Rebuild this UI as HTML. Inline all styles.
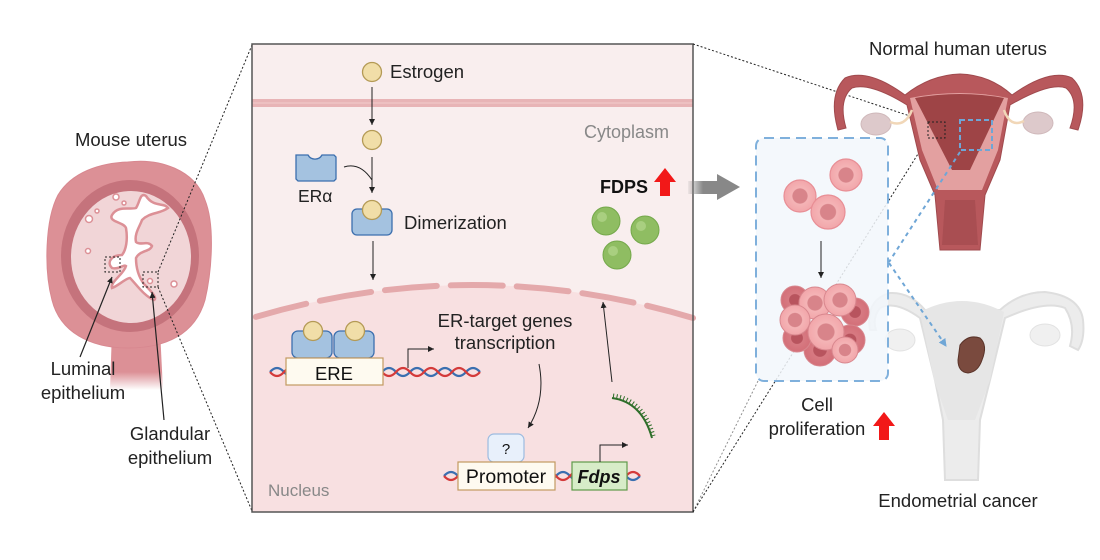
<!DOCTYPE html>
<html><head><meta charset="utf-8"><style>
html,body{margin:0;padding:0;background:#fff;}
svg{display:block;font-family:"Liberation Sans",sans-serif;}
</style></head><body>
<svg width="1100" height="560" viewBox="0 0 1100 560" xmlns="http://www.w3.org/2000/svg">
<defs>
<marker id="ah" markerWidth="8" markerHeight="8" refX="6" refY="3" orient="auto" markerUnits="userSpaceOnUse"><path d="M0,0 L6,3 L0,6 z" fill="#222"/></marker>
<marker id="ahb" markerWidth="10" markerHeight="10" refX="7" refY="4" orient="auto" markerUnits="userSpaceOnUse"><path d="M0,0 L8,4 L0,8 z" fill="#6fa6d6"/></marker>
<linearGradient id="ga" x1="0" x2="1"><stop offset="0" stop-color="#888" stop-opacity="0.1"/><stop offset="0.5" stop-color="#888"/><stop offset="1" stop-color="#888"/></linearGradient>
<linearGradient id="stalk" x1="0" y1="0" x2="0" y2="1"><stop offset="0" stop-color="#dc9096"/><stop offset="0.7" stop-color="#dc9096"/><stop offset="1" stop-color="#dc9096" stop-opacity="0"/></linearGradient>
<radialGradient id="cell" cx="0.5" cy="0.5" r="0.5"><stop offset="0" stop-color="#d8848a"/><stop offset="0.45" stop-color="#d8848a"/><stop offset="0.5" stop-color="#f4b4b6"/><stop offset="1" stop-color="#f2a6aa"/></radialGradient>
<radialGradient id="cell2" cx="0.5" cy="0.5" r="0.5"><stop offset="0" stop-color="#b8545e"/><stop offset="0.4" stop-color="#b8545e"/><stop offset="0.45" stop-color="#d77a82"/><stop offset="1" stop-color="#d36f78"/></radialGradient>
</defs>

<!-- Mouse uterus -->
<text x="131" y="146" font-size="18.5" text-anchor="middle" fill="#222">Mouse uterus</text>
<path d="M112,330 L110,390 L163,390 L160,330 z" fill="url(#stalk)"/>
<path d="M128,162 C160,158 195,170 205,200 C215,225 212,270 205,300 C195,335 165,348 128,348 C90,348 60,332 52,300 C44,270 45,220 58,195 C72,172 100,163 128,162 z" fill="#dc9096" stroke="#d88890"/>
<ellipse cx="130" cy="256" rx="69" ry="76" fill="#c5737c"/>
<ellipse cx="131" cy="257" rx="60" ry="66" fill="#f1d5d7"/>
<path d="M146,196 C140,192 140,202 136,208 C130,210 118,205 112,215 C108,222 124,222 126,228 C128,240 126,250 122,255 C112,255 106,262 112,268 C118,270 124,264 126,266 C124,274 110,282 112,288 C118,286 126,278 130,278 C136,284 144,296 154,300 C158,298 150,290 144,284 C138,276 136,268 136,258 C140,250 150,252 152,246 C148,240 140,246 136,242 C134,234 140,226 142,220 C150,212 160,214 168,208 C164,202 154,208 146,196 z" fill="#fff" stroke="#dc9096" stroke-width="2.5"/>
<g fill="#fff" stroke="#dc9096" stroke-width="1.5">
<circle cx="116" cy="197" r="3"/><circle cx="124" cy="203" r="2"/><circle cx="89" cy="219" r="3.5"/><circle cx="97" cy="211" r="2"/><circle cx="88" cy="251" r="2.5"/><circle cx="174" cy="284" r="3"/><circle cx="150" cy="281" r="2.5"/>
</g>
<rect x="105" y="257" width="15" height="15" fill="none" stroke="#222" stroke-dasharray="2,2"/>
<rect x="143" y="272" width="15" height="15" fill="none" stroke="#222" stroke-dasharray="2,2"/>
<line x1="80" y1="357" x2="112" y2="277" stroke="#222" stroke-width="1.2" marker-end="url(#ah)"/>
<line x1="164" y1="420" x2="152" y2="292" stroke="#222" stroke-width="1.2" marker-end="url(#ah)"/>
<text font-size="18.5" fill="#222" text-anchor="middle"><tspan x="83" y="375">Luminal</tspan><tspan x="83" y="399">epithelium</tspan></text>
<text font-size="18.5" fill="#222" text-anchor="middle"><tspan x="170" y="440">Glandular</tspan><tspan x="170" y="464">epithelium</tspan></text>
<line x1="158" y1="272" x2="252" y2="45" stroke="#222" stroke-dasharray="2,2"/>
<line x1="158" y1="287" x2="252" y2="511" stroke="#222" stroke-dasharray="2,2"/>

<!-- Center panel -->
<rect x="252" y="44" width="441" height="468" fill="#f9eeee"/>
<path d="M252,318 Q472,252 693,318 L693,512 L252,512 z" fill="#f8e0e1"/>
<rect x="252" y="99" width="441" height="8" fill="#e8b4b6"/>
<line x1="252" y1="103" x2="693" y2="103" stroke="#f2cccc" stroke-width="1"/>
<path d="M252,318 Q472,252 693,318" fill="none" stroke="#e4a9ab" stroke-width="6" stroke-linecap="round" stroke-dasharray="52,14" stroke-dashoffset="-4"/>
<rect x="252" y="44" width="441" height="468" fill="none" stroke="#555" stroke-width="1.5"/>

<circle cx="372" cy="72" r="9.5" fill="#f1dea8" stroke="#b49a55" stroke-width="1.3"/>
<text x="390" y="78" font-size="18.5" fill="#222">Estrogen</text>
<line x1="372" y1="87" x2="372" y2="125" stroke="#222" marker-end="url(#ah)"/>
<circle cx="372" cy="140" r="9.5" fill="#f1dea8" stroke="#b49a55" stroke-width="1.3"/>
<line x1="372" y1="157" x2="372" y2="193" stroke="#222" marker-end="url(#ah)"/>
<path d="M344,167 Q360,162 372,180" fill="none" stroke="#222"/>
<path d="M296,155 L308,155 A8,8 0 0 0 322,155 L334,155 L336,157 L336,179 L334,181 L298,181 L296,179 z" fill="#a4c2e0" stroke="#3c6fae" stroke-width="1.3"/>
<text x="298" y="202" font-size="17.5" fill="#222">ERα</text>
<rect x="352" y="209" width="40" height="26" rx="5" fill="#a4c2e0" stroke="#3c6fae" stroke-width="1.3"/>
<circle cx="372" cy="210" r="9.5" fill="#f1dea8" stroke="#b49a55" stroke-width="1.3"/>
<text x="404" y="229" font-size="18.5" fill="#222">Dimerization</text>
<line x1="373" y1="241" x2="373" y2="280" stroke="#222" marker-end="url(#ah)"/>
<text x="584" y="138" font-size="18" fill="#888">Cytoplasm</text>

<text x="600" y="193" font-size="18" font-weight="bold" fill="#111">FDPS</text>
<path d="M660,196 L660,182 L654,182 L665,168 L676,182 L670,182 L670,196 z" fill="#f21818"/>
<g fill="#8fbd62" stroke="#74a84a" stroke-width="1">
<circle cx="606" cy="221" r="14"/><circle cx="645" cy="230" r="14"/><circle cx="617" cy="255" r="14"/>
</g>
<g fill="#a9cf80"><circle cx="602" cy="217" r="5"/><circle cx="641" cy="226" r="5"/><circle cx="613" cy="251" r="5"/></g>

<!-- DNA ERE -->
<g fill="none" stroke-width="2.2">
<path d="M270,372 q7,-8 14,0 t14,0 t14,0 t14,0 t14,0 t14,0 t14,0 t14,0 t14,0 t14,0 t14,0 t14,0 t14,0 t14,0 t14,0" stroke="#3a6fb0"/>
<path d="M270,372 q7,8 14,0 t14,0 t14,0 t14,0 t14,0 t14,0 t14,0 t14,0 t14,0 t14,0 t14,0 t14,0 t14,0 t14,0 t14,0" stroke="#d43a3a"/>
</g>
<rect x="292" y="331" width="40" height="27" rx="6" fill="#a4c2e0" stroke="#3c6fae" stroke-width="1.3"/>
<rect x="334" y="331" width="40" height="27" rx="6" fill="#a4c2e0" stroke="#3c6fae" stroke-width="1.3"/>
<circle cx="313" cy="331" r="9.5" fill="#f1dea8" stroke="#b49a55" stroke-width="1.3"/>
<circle cx="355" cy="331" r="9.5" fill="#f1dea8" stroke="#b49a55" stroke-width="1.3"/>
<rect x="286" y="358" width="97" height="27" fill="#fefaf0" stroke="#c29a60" stroke-width="1.2"/>
<text x="334" y="380" font-size="18.5" text-anchor="middle" fill="#111">ERE</text>
<path d="M408,368 L408,349 L434,349" fill="none" stroke="#222" marker-end="url(#ah)"/>
<text font-size="18.5" fill="#222" text-anchor="middle"><tspan x="505" y="327">ER-target genes</tspan><tspan x="505" y="349">transcription</tspan></text>
<path d="M539,364 Q546,400 528,428" fill="none" stroke="#222" marker-end="url(#ah)"/>
<line x1="612" y1="382" x2="603" y2="302" stroke="#222" marker-end="url(#ah)"/>
<path d="M612,398 Q642,402 652,438" fill="none" stroke="#2f6e2a" stroke-width="2"/>
<path d="M612,398 Q642,402 652,438" fill="none" stroke="#2f6e2a" stroke-width="5" stroke-dasharray="1,2.5" transform="translate(1,-2)"/>

<!-- DNA promoter -->
<g fill="none" stroke-width="2.2">
<path d="M444,476 q7,-8 14,0 t14,0 t14,0 t14,0 t14,0 t14,0 t14,0 t14,0 t14,0 t14,0 t14,0 t14,0 t14,0 t14,0" stroke="#3a6fb0"/>
<path d="M444,476 q7,8 14,0 t14,0 t14,0 t14,0 t14,0 t14,0 t14,0 t14,0 t14,0 t14,0 t14,0 t14,0 t14,0 t14,0" stroke="#d43a3a"/>
</g>
<rect x="488" y="434" width="36" height="28" rx="6" fill="#e8f0fb" stroke="#9dbbe0" stroke-width="1.2"/>
<text x="506" y="454" font-size="15" text-anchor="middle" fill="#111">?</text>
<rect x="458" y="462" width="97" height="28" fill="#fefaf0" stroke="#c29a60" stroke-width="1.2"/>
<text x="506" y="483" font-size="19.5" text-anchor="middle" fill="#111">Promoter</text>
<rect x="572" y="462" width="55" height="28" fill="#d7ecc8" stroke="#5f9a4a" stroke-width="1.2"/>
<text x="599" y="483" font-size="18" font-weight="bold" font-style="italic" text-anchor="middle" fill="#111">Fdps</text>
<path d="M600,462 L600,445 L628,445" fill="none" stroke="#222" marker-end="url(#ah)"/>
<text x="268" y="496" font-size="17" fill="#888">Nucleus</text>

<!-- gray arrow -->
<rect x="688" y="181" width="30" height="13" fill="url(#ga)"/>
<path d="M717,174 L740,187 L717,200 z" fill="#888"/>

<!-- connector dotted to human -->
<line x1="693" y1="44" x2="928" y2="122" stroke="#222" stroke-dasharray="2,2"/>
<line x1="693" y1="512" x2="928" y2="138" stroke="#222" stroke-dasharray="2,2"/>

<!-- Faded cancer uterus -->
<g>
<path d="M870,330 Q865,300 890,293 Q910,292 925,310 L1000,310 Q1020,292 1045,292 Q1080,296 1083,320 Q1085,340 1078,350 L1070,346 Q1076,325 1065,308 Q1045,300 1005,318 L990,380 L980,420 L978,480 L945,480 L943,420 L935,380 L920,318 Q895,300 880,308 Q872,318 876,330 z" fill="#ececec" stroke="#dedede" stroke-width="2"/>
<path d="M920,312 Q962,290 1004,312 L990,380 L975,420 L948,420 L934,380 z" fill="#e6e6e6"/>
<ellipse cx="1045" cy="335" rx="15" ry="11" fill="#f0f0f0" stroke="#e2e2e2"/>
<ellipse cx="900" cy="340" rx="15" ry="11" fill="#f0f0f0" stroke="#e2e2e2"/>
</g>

<!-- Blue box -->
<rect x="756" y="138" width="132" height="243" rx="8" fill="#f2f7fc" fill-opacity="0.85" stroke="#7fb0dc" stroke-width="2" stroke-dasharray="10,6"/>
<line x1="758" y1="381" x2="693" y2="512" stroke="#222" stroke-dasharray="2,2" opacity="0.5"/>

<path d="M960,345 Q968,334 980,338 Q988,345 982,360 Q978,372 968,373 Q958,372 958,360 z" fill="#7a4a3e" stroke="#5a342a"/>
<text x="958" y="507" font-size="18.5" text-anchor="middle" fill="#222">Endometrial cancer</text>

<!-- Cells -->
<g stroke="#e88e95" stroke-width="1.2">
<circle cx="846" cy="175" r="16" fill="url(#cell)"/>
<circle cx="800" cy="196" r="16" fill="url(#cell)"/>
<circle cx="828" cy="212" r="17" fill="url(#cell)"/>
</g>
<line x1="821" y1="241" x2="821" y2="278" stroke="#222" marker-end="url(#ah)"/>
<g stroke="#d8878e" stroke-width="1">
<circle cx="795" cy="300" r="14" fill="url(#cell2)"/>
<circle cx="855" cy="312" r="14" fill="url(#cell2)"/>
<circle cx="850" cy="340" r="15" fill="url(#cell2)"/>
<circle cx="820" cy="350" r="16" fill="url(#cell2)"/>
<circle cx="797" cy="338" r="14" fill="url(#cell2)"/>
<circle cx="815" cy="303" r="16" fill="url(#cell)"/>
<circle cx="840" cy="300" r="16" fill="url(#cell)"/>
<circle cx="795" cy="320" r="15" fill="url(#cell)"/>
<circle cx="826" cy="332" r="18" fill="url(#cell)"/>
<circle cx="845" cy="350" r="13" fill="url(#cell)"/>
</g>
<text font-size="18.5" fill="#222" text-anchor="middle"><tspan x="817" y="411">Cell</tspan><tspan x="817" y="435">proliferation</tspan></text>
<path d="M879,440 L879,426 L873,426 L884,412 L895,426 L889,426 L889,440 z" fill="#f21818"/>

<!-- Normal human uterus -->
<text x="958" y="55" font-size="18.5" text-anchor="middle" fill="#222">Normal human uterus</text>
<path d="M838,130 Q828,95 845,78 Q868,68 905,95 Q930,75 960,74 Q990,75 1012,95 Q1050,68 1072,78 Q1090,95 1078,130 L1070,128 Q1080,100 1066,88 Q1050,82 1010,105 L1000,160 L985,195 L980,250 L940,250 L935,195 L920,160 L907,105 Q870,82 852,88 Q838,100 846,128 z" fill="#b8585c" stroke="#a04a4e" stroke-width="1"/>
<path d="M910,98 Q960,88 1008,98 L998,150 L982,190 L938,190 L922,150 z" fill="#e3a0a0"/>
<path d="M915,98 Q960,90 1004,98 L970,170 L952,170 z" fill="#9e4446"/>
<path d="M945,200 L975,200 L978,245 L942,245 z" fill="#a94e52"/>
<ellipse cx="876" cy="124" rx="15" ry="11" fill="#ddc9cb" stroke="#cfb8ba"/>
<ellipse cx="1038" cy="123" rx="15" ry="11" fill="#ddc9cb" stroke="#cfb8ba"/>
<path d="M890,122 Q905,128 912,110" fill="none" stroke="#f1d7b8" stroke-width="2.5"/>
<path d="M1024,121 Q1010,128 1004,110" fill="none" stroke="#f1d7b8" stroke-width="2.5"/>
<rect x="928" y="122" width="17" height="16" fill="none" stroke="#222" stroke-dasharray="2,2"/>
<rect x="960" y="120" width="32" height="30" fill="none" stroke="#6fa6d6" stroke-width="2" stroke-dasharray="5,3"/>
<line x1="960" y1="152" x2="889" y2="262" stroke="#6fa6d6" stroke-width="2" stroke-dasharray="4,4"/>
<line x1="889" y1="263" x2="946" y2="346" stroke="#6fa6d6" stroke-width="2" stroke-dasharray="4,4" marker-end="url(#ahb)"/>
</svg>
</body></html>
